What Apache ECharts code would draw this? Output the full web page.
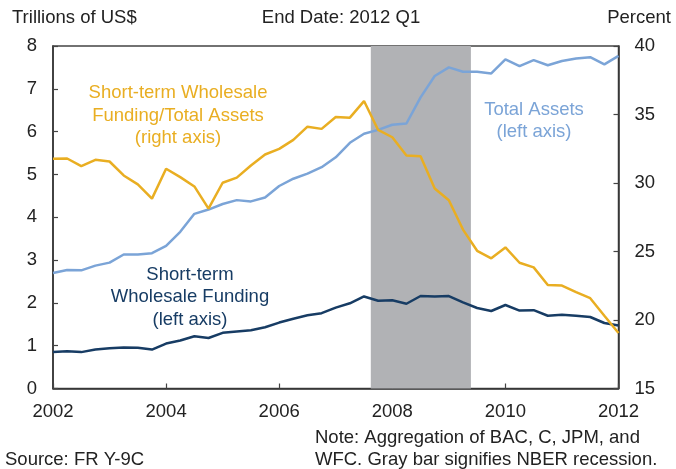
<!DOCTYPE html>
<html>
<head>
<meta charset="utf-8">
<script src="https://cdn.jsdelivr.net/npm/echarts@6/dist/echarts.min.js"></script>
<style>
  html, body { margin: 0; padding: 0; background: #fff; }
  #chart { width: 676px; height: 469px; }
</style>
</head>
<body>
<div id="chart"></div>
<script>
// quarterly, 2002 Q1 .. 2012 Q1
var startYear = 2002;
var totalAssets = [2.70, 2.77, 2.76, 2.87, 2.94, 3.13, 3.13, 3.16, 3.33, 3.66,
    4.08, 4.18, 4.31, 4.40, 4.37, 4.46, 4.73, 4.90, 5.02, 5.17,
    5.40, 5.74, 5.95, 6.04, 6.16, 6.19, 6.80, 7.30, 7.50, 7.40,
    7.40, 7.36, 7.69, 7.53, 7.67, 7.55, 7.65, 7.71, 7.74, 7.57, 7.77];
var wholesale = [0.85, 0.87, 0.85, 0.91, 0.94, 0.96, 0.95, 0.91, 1.05, 1.12,
    1.22, 1.18, 1.30, 1.33, 1.36, 1.43, 1.54, 1.63, 1.71, 1.76,
    1.89, 1.99, 2.15, 2.05, 2.06, 1.98, 2.16, 2.15, 2.16, 2.01,
    1.88, 1.81, 1.95, 1.82, 1.83, 1.70, 1.72, 1.70, 1.67, 1.53, 1.47];
var ratio = [31.77, 31.79, 31.23, 31.69, 31.57, 30.55, 29.90, 28.86, 31.04, 30.43,
    29.75, 28.13, 30.02, 30.39, 31.28, 32.08, 32.49, 33.15, 34.11, 33.95,
    34.82, 34.77, 35.98, 33.87, 33.34, 32.01, 31.96, 29.60, 28.74, 26.60,
    25.05, 24.50, 25.30, 24.18, 23.84, 22.56, 22.51, 22.03, 21.59, 20.31, 19.05];
var recession = [2007.62, 2009.39];

var font = 'Liberation Sans, Arial, sans-serif';
var orange = '#E9AE22', lightBlue = '#7BA4D7', darkBlue = '#173C64';

function pairs(arr) {
    return arr.map(function(v, i) { return [startYear + i / 4, v]; });
}

var chart = echarts.init(document.getElementById('chart'));

var axisLine = { show: true, lineStyle: { color: '#333', width: 1.5 } };
var tick = { show: true, inside: true, length: 5, lineStyle: { color: '#444', width: 1.2 } };
var label = { color: '#222', fontSize: 18.5, fontFamily: font };

var option = {
    animation: false,
    grid: {
        left: 53, right: 57.5, top: 46, bottom: 80.5,
        show: true, borderColor: '#444', borderWidth: 1.5
    },
    xAxis: {
        type: 'value', min: 2002, max: 2012, interval: 2,
        axisLine: axisLine, axisTick: tick,
        axisLabel: Object.assign({ margin: 14, formatter: function(v) { return String(v); } }, label),
        splitLine: { show: false }
    },
    yAxis: [{
        type: 'value', min: 0, max: 8, interval: 1,
        axisLine: axisLine, axisTick: tick,
        axisLabel: Object.assign({ margin: 16 }, label),
        splitLine: { show: false }
    }, {
        type: 'value', min: 15, max: 40, interval: 5,
        position: 'right',
        axisLine: axisLine, axisTick: tick,
        axisLabel: Object.assign({ margin: 16 }, label),
        splitLine: { show: false }
    }],
    series: [{
        name: 'Total Assets', type: 'line', yAxisIndex: 0,
        data: pairs(totalAssets), symbol: 'none',
        lineStyle: { color: lightBlue, width: 2.5 },
        markArea: {
            silent: true,
            itemStyle: { color: '#B1B2B5' },
            data: [[{ xAxis: recession[0] }, { xAxis: recession[1] }]]
        },
        z: 3
    }, {
        name: 'Short-term Wholesale Funding', type: 'line', yAxisIndex: 0,
        data: pairs(wholesale), symbol: 'none',
        lineStyle: { color: darkBlue, width: 2.5 },
        z: 3
    }, {
        name: 'Short-term Wholesale Funding/Total Assets', type: 'line', yAxisIndex: 1,
        data: pairs(ratio), symbol: 'none',
        lineStyle: { color: orange, width: 2.5 },
        z: 4
    }],
    graphic: [
        { type: 'text', x: 12, y: 18, style: { text: 'Trillions of US$', fill: '#222', font: '18.5px ' + font, textVerticalAlign: 'middle' } },
        { type: 'text', x: 341, y: 18, style: { text: 'End Date: 2012 Q1', fill: '#222', font: '18.5px ' + font, textAlign: 'center', textVerticalAlign: 'middle' } },
        { type: 'text', x: 671, y: 18, style: { text: 'Percent', fill: '#222', font: '18.5px ' + font, textAlign: 'right', textVerticalAlign: 'middle' } },
        { type: 'text', x: 178, y: 115.5, style: {
            text: 'Short-term Wholesale\nFunding/Total Assets\n(right axis)', fill: orange,
            font: '18.5px ' + font, lineHeight: 22.5, textAlign: 'center', textVerticalAlign: 'middle' } },
        { type: 'text', x: 534, y: 121, style: {
            text: 'Total Assets\n(left axis)', fill: lightBlue,
            font: '18.5px ' + font, lineHeight: 22.5, textAlign: 'center', textVerticalAlign: 'middle' } },
        { type: 'text', x: 190, y: 297, style: {
            text: 'Short-term\nWholesale Funding\n(left axis)', fill: darkBlue,
            font: '18.5px ' + font, lineHeight: 22.5, textAlign: 'center', textVerticalAlign: 'middle' } },
        { type: 'text', x: 315, y: 449, style: {
            text: 'Note: Aggregation of BAC, C, JPM, and\nWFC. Gray bar signifies NBER recession.', fill: '#222',
            font: '18.5px ' + font, lineHeight: 22, textVerticalAlign: 'middle' } },
        { type: 'text', x: 5, y: 460, style: { text: 'Source: FR Y-9C', fill: '#222', font: '18.5px ' + font, textVerticalAlign: 'middle' } }
    ]
};

chart.setOption(option);
</script>
</body>
</html>
